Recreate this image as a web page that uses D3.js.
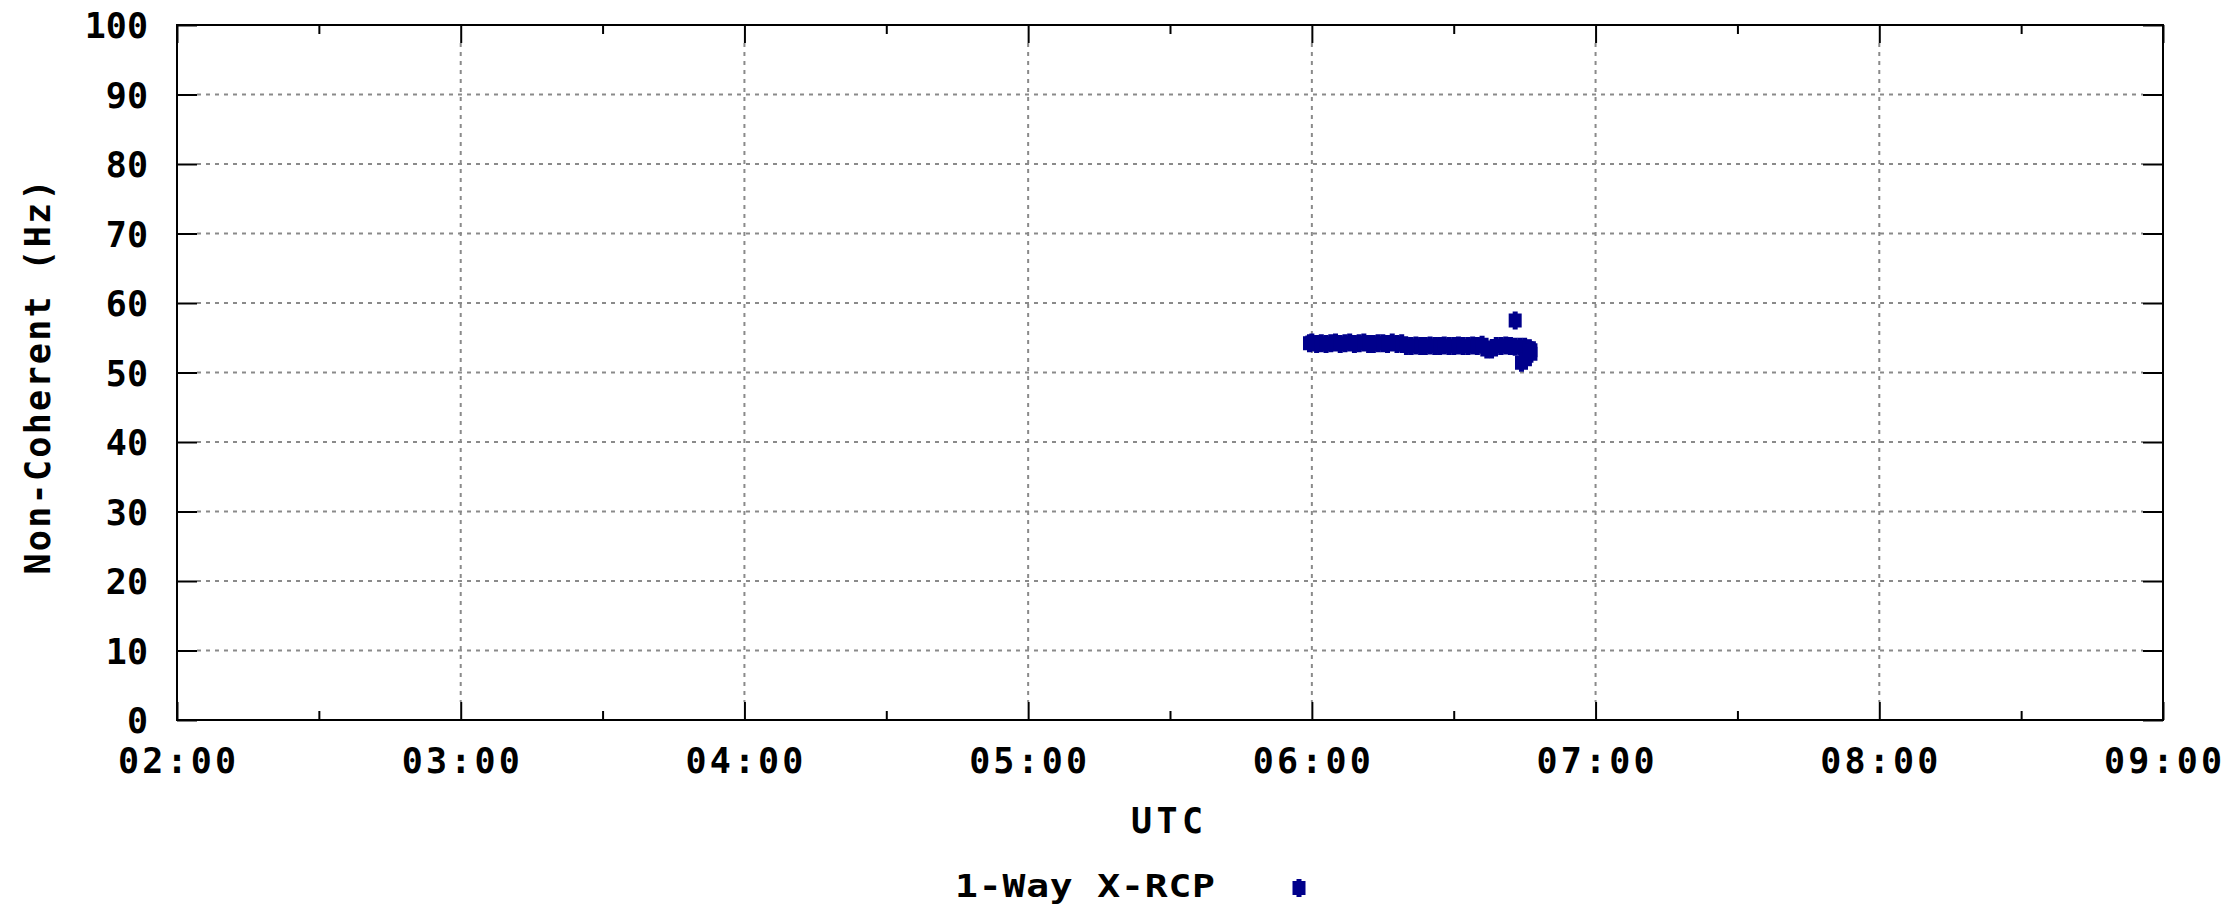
<!DOCTYPE html>
<html>
<head>
<meta charset="utf-8">
<script src="https://cdn.jsdelivr.net/npm/d3@7"></script>
<style>
  html, body { margin: 0; padding: 0; background: #ffffff; }
  svg { display: block; }
  text { font-family: "DejaVu Sans Mono", "Liberation Mono", monospace; fill: #000; font-weight: bold; }
</style>
</head>
<body>
<svg id="chart" width="2230" height="909"></svg>
<script>
// ---------------- data ----------------
const seriesName = "1-Way X-RCP";
const xTitle = "UTC";
const yTitle = "Non-Coherent (Hz)";
const xDomain = ["02:00:00", "09:00:00"];
const yDomain = [0, 100];
const yTickValues = [0, 10, 20, 30, 40, 50, 60, 70, 80, 90, 100];
const xTickLabels = ["02:00", "03:00", "04:00", "05:00", "06:00", "07:00", "08:00", "09:00"];

const times = [
  "05:59:30", "06:00:00", "06:01:00", "06:02:00", "06:03:00", "06:04:00", "06:05:00",
  "06:06:00", "06:07:00", "06:08:00", "06:09:00", "06:10:00", "06:11:00", "06:12:00",
  "06:13:00", "06:14:00", "06:15:00", "06:16:00", "06:17:00", "06:18:00", "06:19:00",
  "06:20:00", "06:21:00", "06:22:00", "06:23:00", "06:24:00", "06:25:00", "06:26:00",
  "06:27:00", "06:28:00", "06:29:00", "06:30:00", "06:31:00", "06:32:00", "06:33:00",
  "06:34:00", "06:35:00", "06:36:00", "06:37:00", "06:38:00", "06:39:00", "06:40:00",
  "06:41:00", "06:42:00", "06:43:00", "06:43:00", "06:44:00", "06:44:20", "06:45:00",
  "06:45:10", "06:46:00", "06:46:20", "06:46:20"
];
const values = [
  54.2, 54.3, 54.1, 54.2, 54.1, 54.2, 54.3,
  54.1, 54.2, 54.3, 54.1, 54.2, 54.3, 54.1,
  54.1, 54.2, 54.2, 54.1, 54.3, 54.1, 54.2,
  53.8, 53.8, 53.9, 53.8, 53.8, 53.9, 53.8,
  53.8, 53.9, 53.8, 53.8, 53.9, 53.8, 53.8,
  53.9, 53.8, 54.0, 53.3, 53.3, 53.8, 53.8,
  53.9, 53.8, 57.5, 53.7, 53.7, 51.4, 53.7,
  51.9, 53.5, 52.7, 53.2
];

// ---------------- layout ----------------
const svg = d3.select("#chart");
const pLeft = 177, pRight = 2163, pTop = 25, pBottom = 720;
const parse = d3.timeParse("%H:%M:%S");
const parseHM = d3.timeParse("%H:%M");

const x = d3.scaleTime().domain(xDomain.map(parse)).range([pLeft, pRight]);
const y = d3.scaleLinear().domain(yDomain).range([pBottom, pTop]);

const points = times.map((t, i) => ({ t: parse(t), v: values[i] }));
const xMajor = xTickLabels.map(parseHM);
const xMinor = d3.timeMinute.every(30).range(x.domain()[0], x.domain()[1]).filter(d => d.getMinutes() === 30);

// ---------------- grid ----------------
const grid = svg.append("g").attr("stroke", "#8a8a8a").attr("stroke-width", 2).attr("stroke-dasharray", "4,5");
grid.selectAll("line.h").data(yTickValues.filter(v => v > yDomain[0] && v < yDomain[1]))
  .join("line").attr("class", "h")
  .attr("x1", pLeft + 20).attr("x2", pRight - 20)
  .attr("y1", d => y(d)).attr("y2", d => y(d));
grid.selectAll("line.v").data(xMajor.slice(1, -1))
  .join("line").attr("class", "v")
  .attr("x1", d => x(d)).attr("x2", d => x(d))
  .attr("y1", pTop + 18).attr("y2", pBottom - 18);

// ---------------- axes ----------------
const axisG = svg.append("g");
axisG.append("g").attr("transform", `translate(0,${pBottom})`)
  .call(d3.axisBottom(x).tickValues(xMajor).tickSize(-18).tickFormat(""));
axisG.append("g").attr("transform", `translate(0,${pBottom})`)
  .call(d3.axisBottom(x).tickValues(xMinor).tickSize(-9).tickFormat(""));
axisG.append("g").attr("transform", `translate(0,${pTop})`)
  .call(d3.axisTop(x).tickValues(xMajor).tickSize(-18).tickFormat(""));
axisG.append("g").attr("transform", `translate(0,${pTop})`)
  .call(d3.axisTop(x).tickValues(xMinor).tickSize(-9).tickFormat(""));
axisG.append("g").attr("transform", `translate(${pLeft},0)`)
  .call(d3.axisLeft(y).tickValues(yTickValues).tickSize(-20).tickFormat(""));
axisG.append("g").attr("transform", `translate(${pRight},0)`)
  .call(d3.axisRight(y).tickValues(yTickValues).tickSize(-20).tickFormat(""));
axisG.selectAll(".domain").remove();
axisG.selectAll("line").attr("stroke", "#000").attr("stroke-width", 2);

// frame
svg.append("rect").attr("x", pLeft).attr("y", pTop)
  .attr("width", pRight - pLeft).attr("height", pBottom - pTop)
  .attr("fill", "none").attr("stroke", "#000").attr("stroke-width", 2);

// tick labels
svg.append("g").selectAll("text").data(yTickValues).join("text")
  .attr("x", 148).attr("y", d => y(d) + 13)
  .attr("text-anchor", "end").attr("font-size", 35)
  .text(d => d);
svg.append("g").selectAll("text").data(xMajor).join("text")
  .attr("x", d => x(d)).attr("y", 773)
  .attr("text-anchor", "middle").attr("font-size", 35)
  .attr("textLength", 118).attr("lengthAdjust", "spacing")
  .text((d, i) => xTickLabels[i]);

// titles
svg.append("text").attr("x", 1167).attr("y", 833)
  .attr("text-anchor", "middle").attr("font-size", 35)
  .attr("textLength", 72).attr("lengthAdjust", "spacing")
  .text(xTitle);
svg.append("text")
  .attr("transform", `translate(50,377) rotate(-90)`)
  .attr("text-anchor", "middle").attr("font-size", 35)
  .attr("textLength", 395).attr("lengthAdjust", "spacing")
  .text(yTitle);

// ---------------- marks ----------------
const markerPath = "M-6.5,-7 L-2.5,-7 L-2.5,-9 L2.5,-9 L2.5,-7 L6.5,-7 L6.5,7 L2.5,7 L2.5,9 L-2.5,9 L-2.5,7 L-6.5,7 Z";
const color = "#00008b";
svg.append("g").selectAll("path").data(points).join("path")
  .attr("d", markerPath)
  .attr("transform", d => `translate(${x(d.t)},${y(d.v)})`)
  .attr("fill", color);

// legend
svg.append("text").attr("transform", "translate(955,897) scale(1,0.85)")
  .attr("font-size", 38).attr("font-weight", "normal")
  .attr("textLength", 260).attr("lengthAdjust", "spacing")
  .text(seriesName);
svg.append("path").attr("d", markerPath)
  .attr("transform", "translate(1299,888)")
  .attr("fill", color);
</script>
</body>
</html>
